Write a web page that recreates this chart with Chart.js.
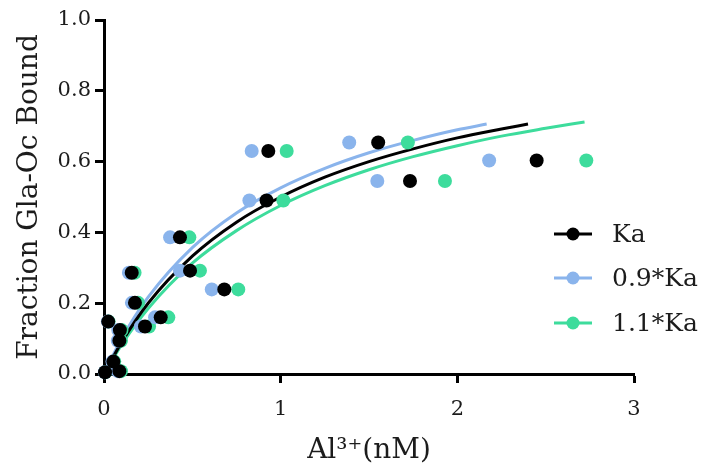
<!DOCTYPE html>
<html>
<head>
<meta charset="utf-8">
<script src="https://cdn.jsdelivr.net/npm/chart.js@4"></script>
<style>
  html, body { margin: 0; padding: 0; background: #fff; }
  #wrap { width: 713px; height: 468px; }
</style>
</head>
<body>
<div id="wrap"><canvas id="binding-chart" width="713" height="468"></canvas></div>
<script>
// --- Measured points: Al3+ concentration (nM) vs fraction bound ---
const seriesNames = ['Ka', '0.9*Ka', '1.1*Ka'];
const seriesColors = ['#000000', '#8ab4ec', '#3ddc9c'];

const alKa   = [0.006, 0.053, 0.087, 0.024, 0.090, 0.087, 0.157, 0.175, 0.232, 0.321, 0.430, 0.487, 0.681, 0.920, 0.930, 1.552, 1.732, 2.449];
const alKa09 = [0.005, 0.048, 0.078, 0.022, 0.081, 0.078, 0.141, 0.158, 0.209, 0.289, 0.374, 0.430, 0.610, 0.823, 0.836, 1.388, 1.547, 2.180];
const alKa11 = [0.007, 0.058, 0.096, 0.026, 0.099, 0.096, 0.173, 0.193, 0.255, 0.364, 0.483, 0.543, 0.760, 1.015, 1.034, 1.720, 1.930, 2.730];
const fractionBound = [0.005, 0.035, 0.008, 0.148, 0.124, 0.094, 0.286, 0.201, 0.134, 0.160, 0.386, 0.292, 0.239, 0.490, 0.630, 0.654, 0.545, 0.603];

// --- Fitted binding curves ---
const fitXKa   = [0, 0.1, 0.25, 0.5, 0.75, 1.0, 1.25, 1.5, 1.75, 2.0, 2.25, 2.4];
const fitYKa   = [0, 0.09, 0.2, 0.333, 0.429, 0.5, 0.556, 0.6, 0.636, 0.667, 0.692, 0.706];
const fitXKa09 = [0, 0.1, 0.25, 0.5, 0.75, 1.0, 1.25, 1.5, 1.75, 2.0, 2.166];
const fitYKa09 = [0, 0.1, 0.217, 0.357, 0.455, 0.526, 0.581, 0.625, 0.66, 0.69, 0.706];
const fitXKa11 = [0, 0.1, 0.25, 0.5, 0.75, 1.0, 1.25, 1.5, 1.75, 2.0, 2.25, 2.5, 2.72];
const fitYKa11 = [0, 0.083, 0.185, 0.313, 0.405, 0.476, 0.532, 0.577, 0.614, 0.645, 0.672, 0.694, 0.712];

// --- Axis ticks ---
const xTicks = [0, 1, 2, 3];
const yTicks = [0, 0.2, 0.4, 0.6, 0.8, 1.0];

const FONT = '"DejaVu Serif", "Liberation Serif", serif';
const TEXT_COLOR = '#1c1c1c';

function toPoints(xs, ys) {
    return xs.map((x, i) => ({ x: x, y: ys[i] }));
}

function scatterSet(label, color, xs) {
    return {
        label: label,
        data: toPoints(xs, fractionBound),
        backgroundColor: color,
        borderColor: color,
        pointRadius: 7,
        pointHoverRadius: 7,
        borderWidth: 0,
        showLine: false,
        clip: false
    };
}

function curveSet(label, color, xs, ys) {
    return {
        label: label,
        data: toPoints(xs, ys),
        borderColor: color,
        backgroundColor: color,
        borderWidth: 3,
        pointRadius: 0,
        showLine: true,
        cubicInterpolationMode: 'monotone'
    };
}

// Legend on the right: short line with a dot, then the name
const lineDotLegend = {
    id: 'lineDotLegend',
    afterDraw(chart) {
        const ctx = chart.ctx;
        const rows = [234, 278, 323];
        ctx.save();
        seriesNames.forEach((name, i) => {
            const y = rows[i];
            ctx.strokeStyle = seriesColors[i];
            ctx.lineWidth = 3;
            ctx.beginPath();
            ctx.moveTo(554, y);
            ctx.lineTo(592, y);
            ctx.stroke();
            ctx.fillStyle = seriesColors[i];
            ctx.beginPath();
            ctx.arc(573, y, 6.5, 0, Math.PI * 2);
            ctx.fill();
            ctx.fillStyle = TEXT_COLOR;
            ctx.font = '25px ' + FONT;
            ctx.textAlign = 'left';
            ctx.textBaseline = 'middle';
            ctx.fillText(name, 612, y + 1);
        });
        ctx.restore();
    }
};

const ctx = document.getElementById('binding-chart').getContext('2d');
new Chart(ctx, {
    type: 'scatter',
    data: {
        datasets: [
            scatterSet(seriesNames[0], seriesColors[0], alKa),
            scatterSet(seriesNames[1], seriesColors[1], alKa09),
            scatterSet(seriesNames[2], seriesColors[2], alKa11),
            curveSet(seriesNames[0], seriesColors[0], fitXKa, fitYKa),
            curveSet(seriesNames[1], seriesColors[1], fitXKa09, fitYKa09),
            curveSet(seriesNames[2], seriesColors[2], fitXKa11, fitYKa11)
        ]
    },
    options: {
        responsive: false,
        animation: false,
        layout: { padding: { left: 0, right: 79, top: 20, bottom: 0 } },
        plugins: {
            legend: { display: false },
            tooltip: { enabled: false }
        },
        scales: {
            x: {
                type: 'linear',
                min: 0,
                max: 3,
                afterFit(scale) { scale.height = 94; },
                afterBuildTicks(scale) { scale.ticks = xTicks.map(v => ({ value: v })); },
                border: { color: '#000', width: 3 },
                grid: { drawOnChartArea: false, color: '#000', tickLength: 9, tickWidth: 3 },
                ticks: {
                    color: TEXT_COLOR,
                    padding: 14,
                    font: { family: FONT, size: 21 },
                    callback: v => String(v)
                },
                title: {
                    display: true,
                    text: 'Al³⁺(nM)',
                    color: TEXT_COLOR,
                    font: { family: FONT, size: 28 },
                    padding: { top: 0, bottom: 0 }
                }
            },
            y: {
                type: 'linear',
                min: 0,
                max: 1,
                afterFit(scale) { scale.width = 104; },
                afterBuildTicks(scale) { scale.ticks = yTicks.map(v => ({ value: v })); },
                border: { color: '#000', width: 3 },
                grid: { drawOnChartArea: false, color: '#000', tickLength: 9, tickWidth: 3 },
                ticks: {
                    color: TEXT_COLOR,
                    padding: 4,
                    font: { family: FONT, size: 21 },
                    callback: v => Number(v).toFixed(1)
                },
                title: {
                    display: true,
                    text: 'Fraction Gla-Oc Bound',
                    color: TEXT_COLOR,
                    font: { family: FONT, size: 28 },
                    padding: { top: 13, bottom: 0 }
                }
            }
        }
    },
    plugins: [lineDotLegend]
});
</script>
</body>
</html>
